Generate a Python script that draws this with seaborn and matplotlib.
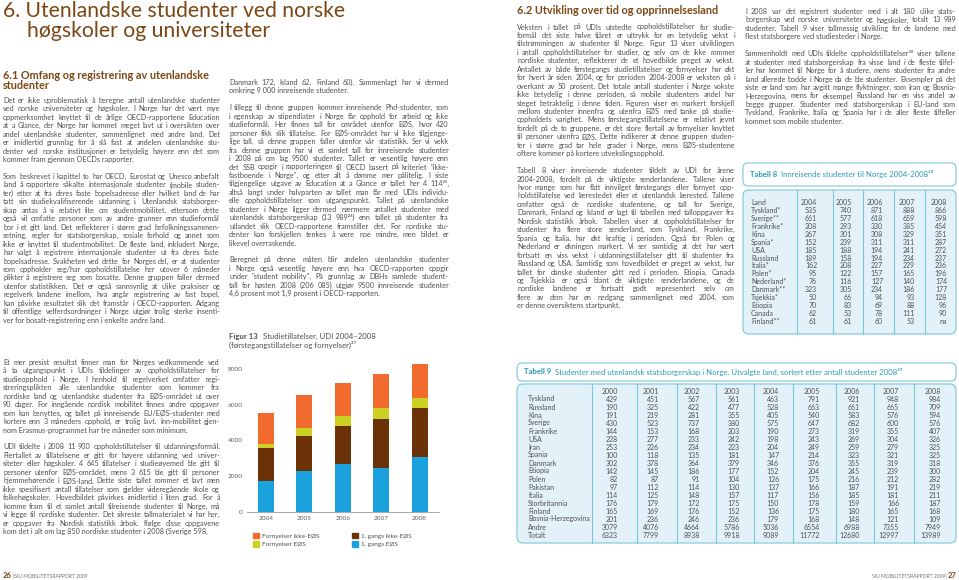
import numpy as np
import pandas as pd
import matplotlib
matplotlib.use("Agg")
import matplotlib.pyplot as plt
import seaborn as sns
from matplotlib.patches import FancyBboxPatch, Rectangle
from matplotlib.font_manager import FontProperties

# Figur 13 - studietillatelser UDI
aar = ['2004', '2005', '2006', '2007', '2008']
gangs_eos = [1740, 2300, 2660, 2470, 3070]
gangs_ikke_eos = [1820, 1930, 2170, 2750, 2750]
forn_eos = [260, 490, 545, 600, 545]
forn_ikke_eos = [1700, 1850, 1835, 1930, 1950]

# Tabell 8
t8_land = ['Tyskland*', 'Sverige**', 'Frankrike*', 'Kina', 'Spania*', 'USA', 'Russland',
           'Italia*', 'Polen*', 'Nederland*', 'Danmark**', 'Tsjekkia*', 'Etiopia', 'Canada', 'Finland**']
t8_aar = ['2004', '2005', '2006', '2007', '2008']
t8_2004 = [535, 661, 208, 267, 152, 185, 189, 162, 95, 76, 323, 50, 70, 62, 61]
t8_2005 = [740, 577, 293, 301, 239, 188, 158, 208, 122, 116, 305, 66, 83, 53, 61]
t8_2006 = [871, 618, 330, 308, 311, 194, 194, 227, 157, 127, 234, 94, 69, 78, 60]
t8_2007 = [888, 659, 385, 329, 311, 241, 234, 229, 165, 140, 186, 93, 88, 111, 53]
t8_2008 = [866, 598, 454, 351, 287, 272, 237, 236, 196, 174, 177, 128, 96, 90, 'na']

# Tabell 9
t9_land = ['Tyskland', 'Russland', 'Kina', 'Sverige', 'Frankrike', 'USA', 'Iran', 'Spania',
           'Danmark', 'Etiopia', 'Polen', 'Pakistan', 'Italia', 'Storbritannia', 'Finland',
           'Bosnia-Herzegovina', 'Andre', 'Totalt']
t9_aar = ['2000', '2001', '2002', '2003', '2004', '2005', '2006', '2007', '2008']
t9_2000 = [429, 190, 191, 430, 144, 228, 253, 100, 302, 142, 82, 97, 114, 176, 165, 201, 3079, 6323]
t9_2001 = [451, 325, 219, 523, 153, 277, 226, 118, 378, 145, 87, 112, 125, 179, 169, 236, 4076, 7799]
t9_2002 = [567, 422, 281, 737, 168, 233, 234, 135, 364, 186, 91, 114, 148, 172, 176, 246, 4664, 8938]
t9_2003 = [561, 477, 355, 380, 203, 242, 223, 181, 379, 177, 104, 130, 157, 175, 152, 236, 5786, 9918]
t9_2004 = [463, 528, 405, 575, 190, 198, 204, 147, 346, 152, 126, 137, 117, 150, 136, 179, 5036, 9089]
t9_2005 = [791, 663, 540, 647, 273, 243, 249, 214, 376, 204, 175, 166, 156, 178, 175, 168, 6554, 11772]
t9_2006 = [921, 661, 583, 682, 319, 269, 259, 323, 355, 245, 216, 187, 185, 159, 180, 148, 6988, 12680]
t9_2007 = [948, 665, 576, 600, 355, 304, 279, 321, 319, 239, 212, 191, 181, 166, 165, 121, 7355, 12997]
t9_2008 = [984, 709, 594, 576, 407, 326, 325, 325, 318, 300, 282, 219, 211, 187, 168, 109, 7949, 13989]

# tekst
tittel = ['6. Utenlandske studenter ved norske', 'høgskoler og universiteter']
kap61 = ['6.1 Omfang og registrering av utenlandske', 'studenter']
kap62 = '6.2 Utvikling over tid og opprinnelsesland'

kol1_a = [
    'Det er ikke uproblematisk å beregne antall utenlandske studenter',
    'ved norske universiteter og høgskoler. I Norge har det vært mye',
    'oppmerksomhet knyttet til de årlige OECD-rapportene Education',
    'at a Glance, der Norge har kommet meget lavt ut i oversikten over',
    'andel utenlandske studenter, sammenlignet med andre land. Det',
    'er imidlertid grunnlag for å slå fast at andelen utenlandske stu-',
    'denter ved norske institusjoner er betydelig høyere enn det som',
    'kommer fram gjennom OECDs rapporter.',
    '',
    'Som beskrevet i kapittel to har OECD, Eurostat og Unesco anbefalt',
    'land å rapportere såkalte internasjonale studenter (mobile studen-',
    'ter) etter at fra deres faste bopelsadresse eller hvilket land de har',
    'tatt sin studiekvalifiserende utdanning i. Utenlandsk statsborger-',
    'skap antas å si relativt lite om studentmobilitet, ettersom dette',
    'også vil omfatte personer som av andre grunner enn studieformål',
    'bor i et gitt land. Det reflekterer i større grad befolkningssammen-',
    'setning, regler for statsborgerskap, sosiale forhold og annet som',
    'ikke er knyttet til studentmobilitet. De fleste land, inkludert Norge,',
    'har valgt å registrere internasjonale studenter ut fra deres faste',
    'bopelsadresse. Svakheten ved dette for Norges del, er at studenter',
    'som oppholder seg/har oppholdstillatelse her utover 6 måneder',
    'plikter å registrere seg som bosatte. Denne gruppen faller dermed',
    'utenfor statistikken. Det er også sannsynlig at ulike praksiser og',
    'regelverk landene imellom, hva angår registrering av fast bopel,',
    'kan påvirke resultatet slik det framstår i OECD-rapporten. Adgang',
    'til offentlige velferdsordninger i Norge utgjør trolig sterke insenti-',
    'ver for bosatt-registrering enn i enkelte andre land.',
]
kol1_b = [
    'Et mer presist resultat finner man for Norges vedkommende ved',
    'å ta utgangspunkt i UDIs tildelinger av oppholdstillatelser for',
    'studieopphold i Norge. I henhold til regelverket omfatter regi-',
    'streringsplikten alle utenlandske studenter som kommer fra',
    'nordiske land og utenlandske studenter fra EØS-området ut over',
    '90 dager. For inngående nordisk mobilitet finnes andre oppgaver',
    'som kan benyttes, og tallet på innreisende EU/EØS-studenter med',
    'kortere enn 3 måneders opphold, er trolig lavt. Inn-mobilitet gjen-',
    'nom Erasmus-programmet har tre måneder som minimum.',
    '',
    'UDI tildelte i 2008 11 900 oppholdstillatelser til utdanningsformål.',
    'Flertallet av tillatelsene er gitt for høyere utdanning ved univer-',
    'siteter eller høgskoler. 4 645 tillatelser i studieøyemed ble gitt til',
    'personer utenfor EØS-området, mens 3 615 ble gitt til personer',
    'hjemmehørende i EØS-land. Dette siste tallet rommer et lavt men',
    'ikke spesifisert antall tillatelser som gjelder videregående skole og',
    'folkehøgskoler. Hovedbildet påvirkes imidlertid i liten grad. For å',
    'komme fram til et samlet antall tilreisende studenter til Norge, må',
    'vi legge til nordiske studenter. Det sikreste tallmaterialet vi har her,',
    'er oppgaver fra Nordisk statistikk årbok. Ifølge disse oppgavene',
    'kom det i alt om lag 850 nordiske studenter i 2008 (Sverige 598,',
]
kol2 = [
    'Danmark 172, Island 62, Finland 60). Sammenlagt har vi dermed',
    'omkring 9 000 innreisende studenter.',
    '',
    'I tillegg til denne gruppen kommer innreisende Phd-studenter, som',
    'i egenskap av stipendiater i Norge får opphold for arbeid og ikke',
    'studieformål. Her finnes tall for området utenfor EØS, hvor 420',
    'personer fikk slik tillatelse. For EØS-området har vi ikke tilgjenge-',
    'lige tall, så denne gruppen faller utenfor vår statistikk. Ser vi vekk',
    'fra denne gruppen har vi et samlet tall for innreisende studenter',
    'i 2008 på om lag 9500 studenter. Tallet er vesentlig høyere enn',
    'det SSB oppgir i rapporteringen til OECD basert på kriteriet "ikke-',
    'fastboende i Norge", og etter alt å dømme mer pålitelig. I siste',
    'tilgjengelige utgave av Education at a Glance er tallet her 4 114²⁵,',
    'altså langt under halvparten av tallet man får med UDIs individu-',
    'elle oppholdstillatelser som utgangspunkt. Tallet på utenlandske',
    'studenter i Norge ligger dermed nærmere antallet studenter med',
    'utenlandsk statsborgerskap (13 989²⁶) enn tallet på studenter fra',
    'utlandet slik OECD-rapportene framstiller det. For nordiske stu-',
    'denter kan forskjellen tenkes å være noe mindre, men bildet er',
    'likevel overraskende.',
    '',
    'Beregnet på denne måten blir andelen utenlandske studenter',
    'i Norge også vesentlig høyere enn hva OECD-rapporten oppgir',
    'under "student mobility". På grunnlag av DBHs samlede student-',
    'tall for høsten 2008 (206 085) utgjør 9500 innreisende studenter',
    '4,6 prosent mot 1,9 prosent i OECD-rapporten.',
]
kol3 = [
    'Veksten i tallet på UDIs utstedte oppholdstillatelser for studie-',
    'formål det siste halve tiåret er uttrykk for en betydelig vekst i',
    'tilstrømmingen av studenter til Norge. Figur 13 viser utviklingen',
    'i antall oppholdstillatelser for studier, og selv om de ikke rommer',
    'nordiske studenter, reflekterer de et hovedbilde preget av vekst.',
    'Antallet av både førstegangs studietillatelser og fornyelser har økt',
    'for hvert år siden 2004, og for perioden 2004-2008 er veksten på i',
    'overkant av 50 prosent. Det totale antall studenter i Norge vokste',
    'ikke betydelig i denne perioden, så mobile studenters andel har',
    'steget betraktelig i denne tiden. Figuren viser en markert forskjell',
    'mellom studenter innenfra og utenfra EØS med tanke på studie-',
    'oppholdets varighet. Mens førstegangstillatelsene er relativt jevnt',
    'fordelt på de to gruppene, er det store flertall av fornyelser knyttet',
    'til personer utenfra EØS. Dette indikerer at denne gruppen studen-',
    'ter i større grad tar hele grader i Norge, mens EØS-studentene',
    'oftere kommer på kortere utvekslingsopphold.',
    '',
    'Tabell 8 viser innreisende studenter tildelt av UDI for årene',
    '2004-2008, fordelt på de viktigste senderlandene. Tallene viser',
    'hvor mange som har fått innvilget førstegangs eller fornyet opp-',
    'holdstillatelse ved lærestedet eller et utenlandsk lærested. Tallene',
    'omfatter også de nordiske studentene, og tall for Sverige,',
    'Danmark, Finland og Island er lagt til tabellen med talloppgaver fra',
    'Nordisk statistikk årbok. Tabellen viser at oppholdstillatelser for',
    'studenter fra flere store senderland, som Tyskland, Frankrike,',
    'Spania og Italia, har økt kraftig i perioden. Også for Polen og',
    'Nederland er økningen markert. Vi ser samtidig at det har vært',
    'fortsatt en viss vekst i utdanningstillatelser gitt til studenter fra',
    'Russland og USA. Samtidig som hovedbildet er preget av vekst, har',
    'tallet for danske studenter gått ned i perioden. Etiopia, Canada',
    'og Tsjekkia er også blant de viktigste senderlandene, og de',
    'nordiske landene er fortsatt godt representert selv om',
    'flere av dem har en nedgang sammenlignet med 2004, som',
    'er denne oversiktens startpunkt.',
]
kol4 = [
    'I 2008 var det registrert studenter med i alt 180 ulike stats-',
    'borgerskap ved norske universiteter og høgskoler, totalt 13 989',
    'studenter. Tabell 9 viser tallmessig utvikling for de landene med',
    'flest statsborgere ved studiesteder i Norge.',
    '',
    'Sammenholdt med UDIs tildelte oppholdstillatelser³⁰ viser tallene',
    'at studenter med statsborgerskap fra visse land i de fleste tilfel-',
    'ler har kommet til Norge for å studere, mens studenter fra andre',
    'land allerede bodde i Norge da de ble studenter. Eksempler på det',
    'siste er land som har avgitt mange flyktninger, som Iran og Bosnia-',
    'Herzegovina, mens for eksempel Russland har en viss andel av',
    'begge grupper. Studenter med statsborgerskap i EU-land som',
    'Tyskland, Frankrike, Italia og Spania har i de aller fleste tilfeller',
    'kommet som mobile studenter.',
]

# farger
brun = '#7b4613'
tekst = '#505050'
tyrkis = '#2b9cb8'
kant = '#7cc7d8'
bunn = '#e2f2f8'
c_orange = '#f26a2d'
c_gul = '#cbd023'
c_brun = '#6b3107'
c_bla = '#1ba2dc'

sns.set_theme(style='white')
plt.rcParams['font.family'] = ['Lato', 'DejaVu Sans']

fig = plt.figure(figsize=(9.59, 5.8), dpi=100)
side = fig.add_axes([0, 0, 1, 1])
side.set_xlim(0, 959)
side.set_ylim(580, 0)
side.axis('off')
renderer = fig.canvas.get_renderer()


def font(size, weight='normal'):
    return FontProperties(family=['Lato', 'DejaVu Sans'], size=size, weight=weight)


brod = font(5.25)


def bredde(s, prop):
    w, h, d = renderer.get_text_width_height_descent(s, prop, ismath=False)
    return w


def tilpass(s, target, weight='normal'):
    # fontstørrelse som gir ønsket bredde i piksler
    return font(10 * target / bredde(s, font(10, weight)), weight)


def skriv(x, y, width, linjer, steg=8.45, farge=tekst):
    for i, linje in enumerate(linjer):
        if linje:
            siste = i + 1 == len(linjer) or linjer[i + 1] == ''
            ord_ = linje.split(' ')
            if siste or len(ord_) == 1:
                side.text(x, y, linje, fontproperties=brod, color=farge, va='baseline')
            else:
                wb = [bredde(o, brod) for o in ord_]
                gap = (width - sum(wb)) / (len(ord_) - 1)
                gap = max(gap, 0.8)
                xx = x
                for o, b in zip(ord_, wb):
                    side.text(xx, y, o, fontproperties=brod, color=farge, va='baseline')
                    xx += b + gap
        y += steg


# overskrifter
f_tittel = tilpass(tittel[0], 342)
side.text(3, 17, tittel[0], fontproperties=f_tittel, color=brun, va='baseline')
side.text(27, 37, tittel[1], fontproperties=f_tittel, color=brun, va='baseline')
f_kap = tilpass(kap61[0], 207, 'bold')
side.text(3, 79, kap61[0], fontproperties=f_kap, color=brun, va='baseline')
side.text(3, 89, kap61[1], fontproperties=f_kap, color=brun, va='baseline')
side.text(517, 14, kap62, fontproperties=f_kap, color=brun, va='baseline')

# kolonner
skriv(3, 103, 217, kol1_a)
skriv(3, 365, 217, kol1_b)
skriv(229, 85, 220, kol2)
skriv(517, 29.5, 218, kol3)
skriv(745, 14, 211, kol4)

# figurtekst
f_fig_b = font(5.6, 'bold')
f_fig = font(5.6)
side.text(229, 339, 'Figur 13', fontproperties=f_fig_b, color=tekst, va='baseline')
side.text(229 + bredde('Figur 13', f_fig_b) + 5, 339, 'Studietillatelser, UDI 2004–2008',
          fontproperties=f_fig, color=tekst, va='baseline')
side.text(229, 348, '(førstegangstillatelser og fornyelser)²⁷', fontproperties=f_fig,
          color=tekst, va='baseline')

# Figur 13 stablet stolpediagram
df = pd.DataFrame({'aar': aar, 'gangs_eos': gangs_eos, 'gangs_ikke_eos': gangs_ikke_eos,
                   'forn_eos': forn_eos, 'forn_ikke_eos': forn_ikke_eos})
df['lag1'] = df['gangs_eos']
df['lag2'] = df['lag1'] + df['gangs_ikke_eos']
df['lag3'] = df['lag2'] + df['forn_eos']
df['lag4'] = df['lag3'] + df['forn_ikke_eos']

ax = fig.add_axes([246.8 / 959, (580 - 511.7) / 580, 192 / 959, (511.7 - 355) / 580])
ax.patch.set_alpha(0)
for kol, farge in [('lag4', c_orange), ('lag3', c_gul), ('lag2', c_brun), ('lag1', c_bla)]:
    sns.barplot(data=df, x='aar', y=kol, color=farge, saturation=1, width=0.42,
                linewidth=0, ax=ax)
ax.set_ylim(0, 8800)
ax.set_xlim(-0.5, 4.5)
ax.set_yticks([0, 2000, 4000, 6000, 8000])
ax.set_xlabel('')
ax.set_ylabel('')
ax.tick_params(axis='both', labelsize=4.6, colors='#606060', length=0, pad=3)
for s in ['top', 'right', 'left']:
    ax.spines[s].set_visible(False)
ax.spines['bottom'].set_color('#9a9a9a')
ax.spines['bottom'].set_linewidth(0.6)
ax.grid(False)

handles = [Rectangle((0, 0), 1, 1, color=c) for c in [c_orange, c_gul, c_brun, c_bla]]
labels = ['Fornyelser ikke-EØS', 'Fornyelser EØS', '1. gangs ikke-EØS', '1. gangs EØS']
fig.legend(handles, labels, loc='upper left', bbox_to_anchor=(247 / 959, 1 - 527 / 580),
           ncol=2, frameon=False, fontsize=4.6, handlelength=1.0, handleheight=1.0,
           handletextpad=0.5, columnspacing=5.0, labelspacing=0.35, labelcolor='#505050')

f_tab = font(5.0)
f_tt = font(5.6)
f_tt_b = font(5.6, 'bold')


def tabell(x0, x1, ty0, ty1, by0, by1, nr, tittel_tekst, skiller):
    side.add_patch(FancyBboxPatch((x0, ty0), x1 - x0, ty1 - ty0,
                                  boxstyle='round,pad=0,rounding_size=5',
                                  fc='white', ec=kant, lw=0.8))
    ty = (ty0 + ty1) / 2 + 2.5
    side.text(x0 + 7, ty, nr, fontproperties=f_tt_b, color=tyrkis, va='baseline')
    side.text(x0 + 7 + bredde(nr, f_tt_b) + 4, ty, tittel_tekst, fontproperties=f_tt,
              color=tyrkis, va='baseline')
    side.add_patch(FancyBboxPatch((x0, by0), x1 - x0, by1 - by0,
                                  boxstyle='round,pad=0,rounding_size=6',
                                  fc=bunn, ec=kant, lw=0.8))
    for sx in skiller:
        side.plot([sx, sx], [by0, by1], color=kant, lw=0.8)


# Tabell 8
tabell(743, 956, 163, 186, 190, 334, 'Tabell 8', 'Innreisende studenter til Norge 2004-2008²⁸',
       [797, 833, 863, 894, 925])
t8 = pd.DataFrame({'2004': t8_2004, '2005': t8_2005, '2006': t8_2006,
                   '2007': t8_2007, '2008': t8_2008}, index=t8_land)
t8_x = [817, 852, 883, 915, 947]
y = 205
side.text(751, y, 'Land', fontproperties=f_tab, color=tekst, va='baseline')
for xx, a in zip(t8_x, t8_aar):
    side.text(xx, y, a, fontproperties=f_tab, color=tekst, ha='right', va='baseline')
for i, land in enumerate(t8.index):
    yy = y + (i + 1) * 7.93
    side.text(751, yy, land, fontproperties=f_tab, color=tekst, va='baseline')
    for xx, a in zip(t8_x, t8_aar):
        side.text(xx, yy, str(t8.loc[land, a]), fontproperties=f_tab, color=tekst,
                  ha='right', va='baseline')

# Tabell 9
tabell(517, 956, 363, 381, 384, 543, 'Tabell 9',
       'Studenter med utenlandsk statsborgerskap i Norge. Utvalgte land, sortert etter antall studenter 2008²⁹',
       [592, 637, 677, 716, 754, 793, 836, 874, 914])
t9 = pd.DataFrame({'2000': t9_2000, '2001': t9_2001, '2002': t9_2002, '2003': t9_2003,
                   '2004': t9_2004, '2005': t9_2005, '2006': t9_2006, '2007': t9_2007,
                   '2008': t9_2008}, index=t9_land)
t9_x = [618, 659, 700, 740, 779, 820, 860, 899, 941]
y = 394
for xx, a in zip(t9_x, t9_aar):
    side.text(xx, y, a, fontproperties=f_tab, color=tekst, ha='right', va='baseline')
for i, land in enumerate(t9.index):
    yy = 401.5 + i * 8.0
    side.text(528, yy, land, fontproperties=f_tab, color=tekst, va='baseline')
    for xx, a in zip(t9_x, t9_aar):
        side.text(xx, yy, str(t9.loc[land, a]), fontproperties=f_tab, color=tekst,
                  ha='right', va='baseline')

# bunntekst
f_sid = font(5.5, 'bold')
f_fot = font(3.6)
side.text(3, 578, '26', fontproperties=f_sid, color=brun, va='baseline')
side.text(3 + bredde('26', f_sid) + 1, 578, '|SIU MOBILITETSRAPPORT 2009', fontproperties=f_fot,
          color='#707070', va='baseline')
side.text(956, 578, '27', fontproperties=f_sid, color=brun, ha='right', va='baseline')
side.text(956 - bredde('27', f_sid) - 1, 578, 'SIU MOBILITETSRAPPORT 2009|', fontproperties=f_fot,
          color='#707070', ha='right', va='baseline')

fig.savefig('out.png', dpi=100)
